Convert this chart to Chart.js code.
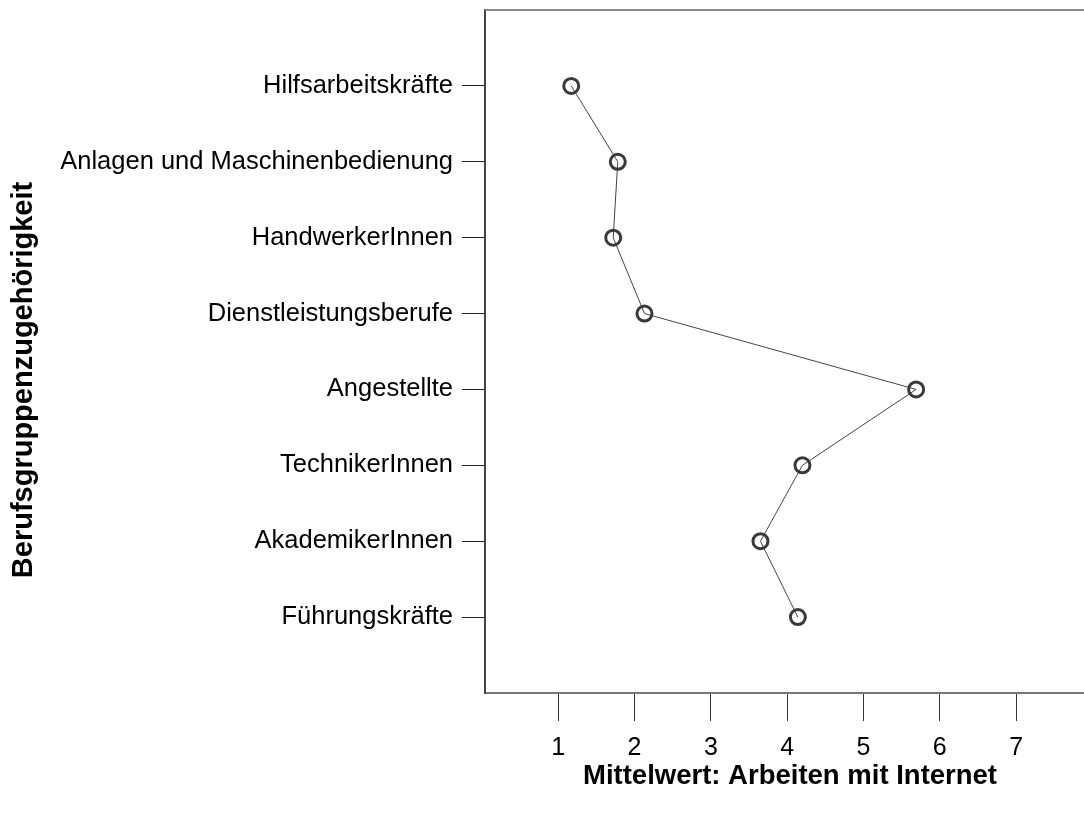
<!DOCTYPE html>
<html>
<head>
<meta charset="utf-8">
<script src="https://cdn.jsdelivr.net/npm/chart.js@4/dist/chart.umd.min.js"></script>
<style>
  html, body { margin: 0; padding: 0; background: #fff; }
  #wrap { width: 1084px; height: 814px; }
</style>
</head>
<body>
<div id="wrap"><canvas id="chart" width="1084" height="814"></canvas></div>
<script>
// categories top to bottom, mean values
var gruppen = [
  "Hilfsarbeitskräfte",
  "Anlagen und Maschinenbedienung",
  "HandwerkerInnen",
  "Dienstleistungsberufe",
  "Angestellte",
  "TechnikerInnen",
  "AkademikerInnen",
  "Führungskräfte"
];
var mittelwerte = [1.17, 1.78, 1.72, 2.13, 5.69, 4.20, 3.65, 4.14];
var xTicks = [1, 2, 3, 4, 5, 6, 7];
var xTitel = "Mittelwert: Arbeiten mit Internet";
var yTitel = "Berufsgruppenzugehörigkeit";

var punkte = [];
for (var i = 0; i < gruppen.length; i++) {
  punkte.push({ x: mittelwerte[i], y: i + 1 });
}

// top frame line + axis titles (SPSS style)
var rahmen = {
  id: "rahmen",
  afterDraw: function(chart) {
    var ctx = chart.ctx, a = chart.chartArea;
    ctx.save();
    ctx.strokeStyle = "#888";
    ctx.lineWidth = 2;
    ctx.beginPath();
    ctx.moveTo(a.left, a.top);
    ctx.lineTo(a.right, a.top);
    ctx.stroke();

    ctx.fillStyle = "#000";
    ctx.textAlign = "center";
    ctx.textBaseline = "middle";
    ctx.font = "bold 27.5px 'Liberation Sans', Arial, sans-serif";
    ctx.fillText(xTitel, 790, 776);

    ctx.font = "bold 29px 'Liberation Sans', Arial, sans-serif";
    ctx.translate(24, 380);
    ctx.rotate(-Math.PI / 2);
    ctx.fillText(yTitel, 0, 0);
    ctx.restore();
  }
};

new Chart(document.getElementById("chart"), {
  type: "line",
  data: {
    datasets: [{
      data: punkte,
      borderColor: "#444",
      borderWidth: 1,
      pointRadius: 7.5,
      pointBorderWidth: 3,
      pointBorderColor: "#3a3a3a",
      pointBackgroundColor: "rgba(0,0,0,0)",
      tension: 0,
      clip: false
    }]
  },
  options: {
    responsive: false,
    animation: false,
    layout: { autoPadding: false, padding: { top: 10, right: 0, bottom: 0, left: 0 } },
    plugins: { legend: { display: false }, tooltip: { enabled: false } },
    scales: {
      x: {
        type: "linear",
        min: 0.04,
        max: 7.89,
        afterBuildTicks: function(s) { s.ticks = xTicks.map(function(v) { return { value: v }; }); },
        afterFit: function(s) { s.height = 121; s.paddingLeft = 0; s.paddingRight = 0; },
        grid: { drawOnChartArea: false, drawTicks: true, tickLength: 28, color: "#333", lineWidth: 1 },
        border: { display: true, color: "#777", width: 2 },
        ticks: {
          color: "#000",
          padding: 12,
          font: { family: "'Liberation Sans', Arial, sans-serif", size: 25 }
        }
      },
      y: {
        type: "linear",
        min: 0,
        max: 9,
        reverse: true,
        afterBuildTicks: function(s) { s.ticks = gruppen.map(function(g, i) { return { value: i + 1 }; }); },
        afterFit: function(s) { s.width = 485; s.paddingTop = 0; s.paddingBottom = 0; },
        grid: { drawOnChartArea: false, drawTicks: true, tickLength: 23, color: "#222", lineWidth: 1 },
        border: { display: true, color: "#444", width: 2 },
        ticks: {
          color: "#000",
          padding: 9,
          autoSkip: false,
          font: { family: "'Liberation Sans', Arial, sans-serif", size: 25.5 },
          callback: function(v) { return gruppen[v - 1] || ""; }
        }
      }
    }
  },
  plugins: [rahmen]
});
</script>
</body>
</html>
